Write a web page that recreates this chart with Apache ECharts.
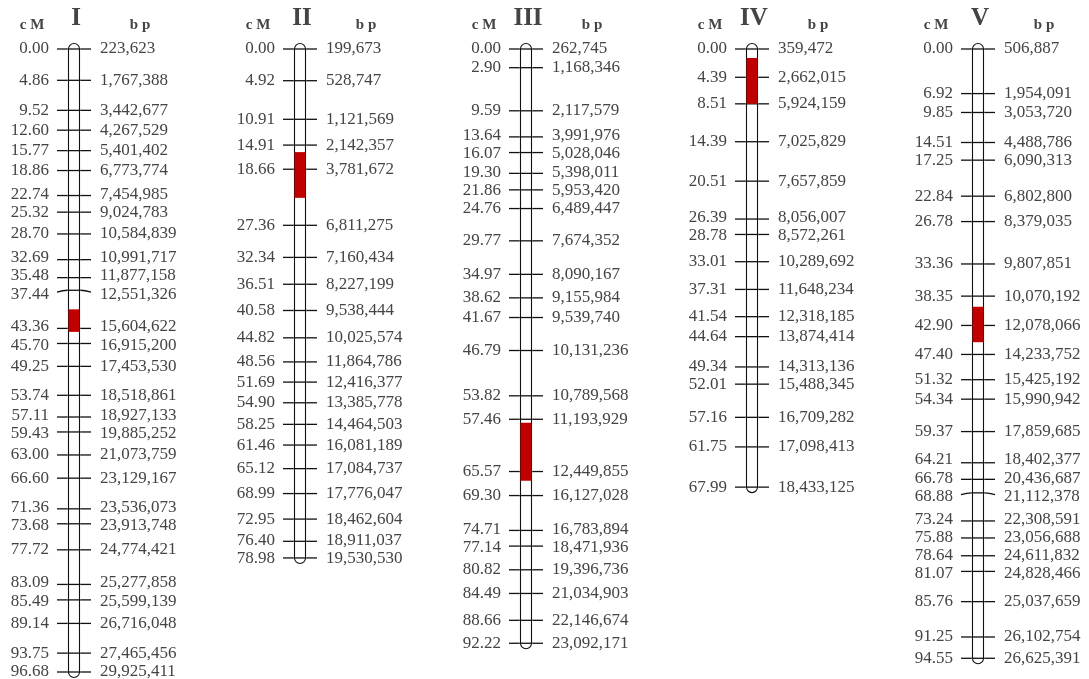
<!DOCTYPE html>
<html>
<head>
<meta charset="utf-8">
<script src="https://cdn.jsdelivr.net/npm/echarts@6/dist/echarts.min.js"></script>
<style>
  html, body { margin: 0; padding: 0; background: #fff; }
  #main { width: 1089px; height: 679px; }
</style>
</head>
<body>
<div id="main"></div>
<script>
// linkage groups
const chrNames = ['I', 'II', 'III', 'IV', 'V'];

const chrI_cM = [0.00, 4.86, 9.52, 12.60, 15.77, 18.86, 22.74, 25.32, 28.70, 32.69, 35.48, 37.44, 43.36, 45.70,
  49.25, 53.74, 57.11, 59.43, 63.00, 66.60, 71.36, 73.68, 77.72, 83.09, 85.49, 89.14, 93.75, 96.68];
const chrI_bp = [223623, 1767388, 3442677, 4267529, 5401402, 6773774, 7454985, 9024783, 10584839, 10991717,
  11877158, 12551326, 15604622, 16915200, 17453530, 18518861, 18927133, 19885252, 21073759, 23129167,
  23536073, 23913748, 24774421, 25277858, 25599139, 26716048, 27465456, 29925411];

const chrII_cM = [0.00, 4.92, 10.91, 14.91, 18.66, 27.36, 32.34, 36.51, 40.58, 44.82, 48.56, 51.69, 54.90,
  58.25, 61.46, 65.12, 68.99, 72.95, 76.40, 78.98];
const chrII_bp = [199673, 528747, 1121569, 2142357, 3781672, 6811275, 7160434, 8227199, 9538444, 10025574,
  11864786, 12416377, 13385778, 14464503, 16081189, 17084737, 17776047, 18462604, 18911037, 19530530];

const chrIII_cM = [0.00, 2.90, 9.59, 13.64, 16.07, 19.30, 21.86, 24.76, 29.77, 34.97, 38.62, 41.67, 46.79,
  53.82, 57.46, 65.57, 69.30, 74.71, 77.14, 80.82, 84.49, 88.66, 92.22];
const chrIII_bp = [262745, 1168346, 2117579, 3991976, 5028046, 5398011, 5953420, 6489447, 7674352, 8090167,
  9155984, 9539740, 10131236, 10789568, 11193929, 12449855, 16127028, 16783894, 18471936, 19396736,
  21034903, 22146674, 23092171];

const chrIV_cM = [0.00, 4.39, 8.51, 14.39, 20.51, 26.39, 28.78, 33.01, 37.31, 41.54, 44.64, 49.34, 52.01,
  57.16, 61.75, 67.99];
const chrIV_bp = [359472, 2662015, 5924159, 7025829, 7657859, 8056007, 8572261, 10289692, 11648234,
  12318185, 13874414, 14313136, 15488345, 16709282, 17098413, 18433125];

const chrV_cM = [0.00, 6.92, 9.85, 14.51, 17.25, 22.84, 26.78, 33.36, 38.35, 42.90, 47.40, 51.32, 54.34,
  59.37, 64.21, 66.78, 68.88, 73.24, 75.88, 78.64, 81.07, 85.76, 91.25, 94.55];
const chrV_bp = [506887, 1954091, 3053720, 4488786, 6090313, 6802800, 8379035, 9807851, 10070192, 12078066,
  14233752, 15425192, 15990942, 17859685, 18402377, 20436687, 21112378, 22308591, 23056688, 24611832,
  24828466, 25037659, 26102754, 26625391];

// QTL intervals (cM), one per group
const qtlStart = [40.4, 16.0, 58.0, 1.4, 40.0];
const qtlEnd = [43.9, 23.1, 67.0, 8.5, 45.5];

const cMs = [chrI_cM, chrII_cM, chrIII_cM, chrIV_cM, chrV_cM];
const bps = [chrI_bp, chrII_bp, chrIII_bp, chrIV_bp, chrV_bp];
const maxCM = Math.max(...cMs.map(a => a[a.length - 1]));

const FONT = '"Liberation Serif", "Times New Roman", serif';
const TXT = '#444';
const HALF_W = 5.5;     // half width of chromosome bar
const TICK = 17;        // half length of marker line
const GAP = 18.3;       // min distance between labels

// spread labels so they don't overlap (cluster centred on mean of ideal positions)
function spreadLabels(ideal, gap) {
  const clusters = [];
  ideal.forEach(function (y, i) {
    clusters.push({ first: i, n: 1, sum: y });
    while (clusters.length > 1) {
      const c = clusters[clusters.length - 1];
      const p = clusters[clusters.length - 2];
      const pTop = p.sum / p.n - (p.n - 1) * gap / 2;
      const cTop = c.sum / c.n - (c.n - 1) * gap / 2;
      if (pTop + p.n * gap > cTop) {
        p.n += c.n;
        p.sum += c.sum;
        clusters.pop();
      } else break;
    }
  });
  const out = [];
  clusters.forEach(function (c) {
    const top = c.sum / c.n - (c.n - 1) * gap / 2;
    for (let k = 0; k < c.n; k++) out.push(top + k * gap);
  });
  return out;
}

function text(str, x, y, align, font) {
  return {
    type: 'text',
    style: {
      text: str, x: x, y: y, font: font, fill: TXT,
      align: align, verticalAlign: 'middle',
      textAlign: align, textVerticalAlign: 'middle'
    }
  };
}

function renderChrom(params, api) {
  const idx = params.dataIndex;
  const cm = cMs[idx];
  const bp = bps[idx];
  const top = api.coord([idx, 0]);
  const bot = api.coord([idx, cm[cm.length - 1]]);
  const cx = top[0];
  const children = [];

  // headers
  children.push(text('c M', cx - 42, 25, 'center', 'bold 15px ' + FONT));
  children.push(text(chrNames[idx], cx + 2, 19, 'center', 'bold 25px ' + FONT));
  children.push(text('b p', cx + 66, 25, 'center', 'bold 15px ' + FONT));

  // chromosome body
  children.push({
    type: 'rect',
    shape: { x: cx - HALF_W, y: top[1] - HALF_W, width: HALF_W * 2, height: bot[1] - top[1] + HALF_W * 2, r: HALF_W },
    style: { fill: '#fff', stroke: '#111', lineWidth: 1.1 }
  });

  const tickY = cm.map(v => api.coord([idx, v])[1]);
  const labY = spreadLabels(tickY, GAP);

  cm.forEach(function (v, i) {
    const ty = tickY[i];
    let off = (labY[i] - ty) * 0.5;
    off = Math.max(-7, Math.min(7, off));
    if (Math.abs(off) < 1.5) off = 0;
    const ey = ty + off;
    children.push({
      type: 'line',
      shape: { x1: cx - HALF_W - 1, y1: ty, x2: cx + HALF_W + 1, y2: ty },
      style: { stroke: '#111', lineWidth: 1.3 }
    });
    children.push({
      type: 'bezierCurve',
      shape: { x1: cx - HALF_W - 1, y1: ty, x2: cx - TICK, y2: ey, cpx1: cx - 11, cpy1: ty },
      style: { stroke: '#111', lineWidth: 1.3, fill: null }
    });
    children.push({
      type: 'bezierCurve',
      shape: { x1: cx + HALF_W + 1, y1: ty, x2: cx + TICK, y2: ey, cpx1: cx + 11, cpy1: ty },
      style: { stroke: '#111', lineWidth: 1.3, fill: null }
    });
    children.push(text(v.toFixed(2), cx - 25, labY[i], 'right', '17px ' + FONT));
    children.push(text(bp[i].toLocaleString('en-US'), cx + 26, labY[i], 'left', '17px ' + FONT));
  });

  // QTL region
  const q1 = api.coord([idx, qtlStart[idx]])[1];
  const q2 = api.coord([idx, qtlEnd[idx]])[1];
  children.push({
    type: 'rect',
    shape: { x: cx - HALF_W, y: q1, width: HALF_W * 2, height: q2 - q1 },
    style: { fill: '#c00000' }
  });

  return { type: 'group', children: children };
}

const chart = echarts.init(document.getElementById('main'));
chart.setOption({
  backgroundColor: '#fff',
  animation: false,
  grid: { left: 74, right: 111, top: 49, bottom: 7 },
  xAxis: { type: 'value', min: 0, max: chrNames.length - 1, show: false },
  yAxis: { type: 'value', inverse: true, min: 0, max: maxCM, show: false },
  series: [{
    type: 'custom',
    coordinateSystem: 'cartesian2d',
    clip: false,
    silent: true,
    renderItem: renderChrom,
    data: chrNames.map((n, i) => [i, 0])
  }]
});
</script>
</body>
</html>
